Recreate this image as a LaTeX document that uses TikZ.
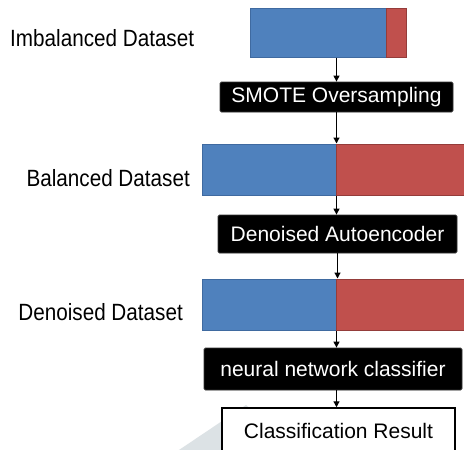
\documentclass[tikz,border=0pt]{standalone}
\usepackage{fontspec}
\setmainfont{Liberation Sans}
\newfontfamily\lblfont{Liberation Sans}[FakeStretch=0.88]
\usetikzlibrary{arrows.meta}
\definecolor{barblue}{HTML}{4F81BD}
\definecolor{barblueedge}{HTML}{3F6AA0}
\definecolor{barred}{HTML}{C0504D}
\definecolor{barrededge}{HTML}{943C3A}
\definecolor{shadegray}{HTML}{DCE2E5}
\tikzset{
  bluebar/.style={draw=barblueedge, fill=barblue, line width=1pt, inner sep=0pt},
  redbar/.style={draw=barrededge, fill=barred, line width=1pt, inner sep=0pt},
  procbox/.style={draw=black!80, fill=black, text=white, rounded corners=1.5pt, inner sep=0pt,
    font=\fontsize{21}{24}\selectfont, line width=0.8pt},
  resultbox/.style={draw=black, fill=white, inner sep=0pt, line width=1.5pt,
    font=\fontsize{21}{24}\selectfont},
  lbl/.style={inner sep=0pt, font=\lblfont\fontsize{23.5}{26}\selectfont},
  arr/.style={-{Triangle[length=6pt,width=6pt]}, line width=1.2pt}
}
\begin{document}
\begin{tikzpicture}[x=1pt,y=-1pt]
\useasboundingbox (0,0) rectangle (464,450);
\clip (0,0) rectangle (464,450);
\fill[white] (0,0) rectangle (464,450);
% light gray background shape
\fill[shadegray] (176,452) -- (246,405) -- (300,452) -- cycle;
% top imbalanced bar
\node[bluebar, minimum width=136pt, minimum height=49pt] (b1) at (318,32.5) {};
\node[redbar, minimum width=20pt, minimum height=49pt] (r1) at (396,32.5) {};
% SMOTE
\node[procbox, minimum width=233pt, minimum height=30pt] (smote) at (336.5,97) {SMOTE Oversampling};
% balanced bar
\node[bluebar, minimum width=134pt, minimum height=51pt] (b2) at (269,169.5) {};
\node[redbar, minimum width=130pt, minimum height=51pt] (r2) at (401,169.5) {};
% autoencoder
\node[procbox, minimum width=239pt, minimum height=38pt] (dae) at (337.5,234) {Denoised Autoencoder};
% denoised bar
\node[bluebar, minimum width=134pt, minimum height=51pt] (b3) at (269,304.5) {};
\node[redbar, minimum width=130pt, minimum height=51pt] (r3) at (401,304.5) {};
% neural network
\node[procbox, minimum width=258pt, minimum height=42pt] (nn) at (333,369) {neural network classifier};
% result
\node[resultbox, minimum width=233pt, minimum height=46pt] (res) at (338.5,431) {Classification Result};
% labels
\node[lbl, anchor=west] (l1) at (10,38) {Imbalanced Dataset};
\node[lbl, anchor=east] (l2) at (190,178) {Balanced Dataset};
\node[lbl, anchor=east] (l3) at (183,312) {Denoised Dataset};
% arrows
\draw[arr] (b1.south -| smote.north) -- (smote.north);
\draw[arr] (smote.south) -- (smote.south |- b2.north);
\draw[arr] (b2.south east) -- (b2.south east |- dae.north);
\draw[arr] (dae.south) -- (dae.south |- b3.north);
\draw[arr] (b3.south east) -- (b3.south east |- nn.north);
\draw[arr] (nn.south -| b3.south east) -- (b3.south east |- res.north);
\end{tikzpicture}
\end{document}
